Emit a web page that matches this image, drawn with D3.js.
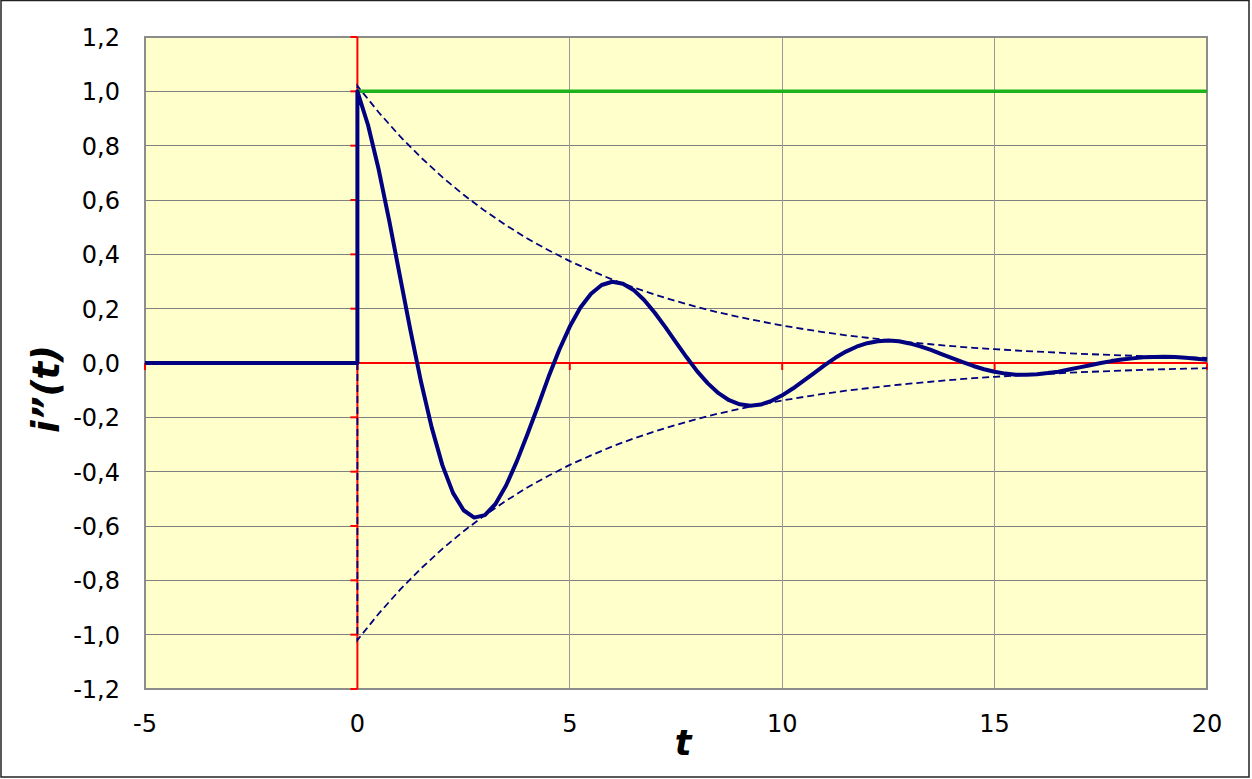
<!DOCTYPE html>
<html><head><meta charset="utf-8">
<script src="https://cdn.jsdelivr.net/npm/d3@7"></script>
<style>
html,body{margin:0;padding:0;background:#fff;}
svg{display:block;}
text{font-family:"DejaVu Sans",Verdana,sans-serif;}
</style></head>
<body>
<svg id="chart" width="1252" height="779"></svg>
<script>
// ---- data ----
const xTicks = [-5, 0, 5, 10, 15, 20];
const yTicks = [-1.2, -1.0, -0.8, -0.6, -0.4, -0.2, 0.0, 0.2, 0.4, 0.6, 0.8, 1.0, 1.2];

// main response i''(t): before the step, then samples every 0.25 from t = 0
const preT = [-5, 0];
const preV = [0, 0];
const respStep = 0.25;
const respV = [
  1.000, 0.876, 0.713, 0.523, 0.321, 0.119, -0.071, -0.238, -0.376, -0.478,
  -0.542, -0.569, -0.560, -0.519, -0.451, -0.363, -0.263, -0.159, -0.051, 0.048,
  0.134, 0.204, 0.255, 0.287, 0.299, 0.292, 0.269, 0.232, 0.185, 0.132,
  0.076, 0.021, -0.031, -0.075, -0.111, -0.137, -0.152, -0.157, -0.153, -0.139,
  -0.119, -0.094, -0.066, -0.037, -0.008, 0.019, 0.042, 0.060, 0.073, 0.080,
  0.083, 0.080, 0.072, 0.061, 0.048, 0.033, 0.018, 0.003, -0.011, -0.023,
  -0.032, -0.039, -0.043, -0.043, -0.041, -0.037, -0.032, -0.024, -0.016, -0.008,
  0.000, 0.007, 0.013, 0.017, 0.021, 0.022, 0.023, 0.022, 0.019, 0.016,
  0.012
];

// envelope (dashed) samples every 0.5 from t = 0
const envStep = 0.5;
const envV = [
  1.020, 0.923, 0.835, 0.756, 0.684, 0.619, 0.560, 0.507, 0.458, 0.415,
  0.375, 0.340, 0.307, 0.278, 0.252, 0.228, 0.206, 0.186, 0.169, 0.153,
  0.138, 0.125, 0.113, 0.102, 0.093, 0.084, 0.076, 0.069, 0.062, 0.056,
  0.051, 0.046, 0.042, 0.038, 0.034, 0.031, 0.028, 0.025, 0.023, 0.021,
  0.019
];

// steady-state level (green)
const levelT = [0, 20];
const levelV = [1.0, 1.0];

const fmt = v => d3.format(".1f")(v).replace(".", ",").replace("−", "-");

// ---- layout ----
const svg = d3.select("#chart");
const L = 145, R = 1207, T = 37, B = 689;
const x = d3.scaleLinear().domain([-5, 20]).range([L, R]);
const y = d3.scaleLinear().domain([-1.2, 1.2]).range([B, T]);

// outer border
svg.append("rect").attr("x", 1).attr("y", 0.5).attr("width", 1248).attr("height", 776.5)
  .attr("fill", "#fff").attr("stroke", "#222").attr("stroke-width", 1.5);

// plot background
svg.append("rect").attr("x", L).attr("y", T).attr("width", R - L).attr("height", B - T)
  .attr("fill", "#FFFFCC");

// gridlines
const grid = svg.append("g").attr("shape-rendering", "crispEdges");
grid.selectAll(".gy").data(yTicks).join("line")
  .attr("x1", L).attr("x2", R).attr("y1", d => y(d)).attr("y2", d => y(d))
  .attr("stroke", "#808080").attr("stroke-width", 1);
grid.selectAll(".gx").data(xTicks).join("line")
  .attr("x1", d => x(d)).attr("x2", d => x(d)).attr("y1", T).attr("y2", B)
  .attr("stroke", "#999").attr("stroke-width", 1);

// plot border
svg.append("rect").attr("x", L).attr("y", T).attr("width", R - L).attr("height", B - T)
  .attr("fill", "none").attr("stroke", "#8c8c8c").attr("stroke-width", 2);

// red axes through the origin
const ax = svg.append("g").attr("stroke", "#FF0000").attr("stroke-width", 2).attr("fill", "none");
ax.append("line").attr("x1", x(0)).attr("x2", x(0)).attr("y1", T).attr("y2", B);
ax.append("line").attr("x1", L).attr("x2", R).attr("y1", y(0)).attr("y2", y(0));
ax.selectAll(".ty").data(yTicks).join("line")
  .attr("x1", x(0) - 7).attr("x2", x(0)).attr("y1", d => y(d)).attr("y2", d => y(d));
ax.selectAll(".tx").data(xTicks).join("line")
  .attr("x1", d => x(d)).attr("x2", d => x(d)).attr("y1", y(0)).attr("y2", y(0) + 7);

// tick labels
svg.append("g").selectAll("text").data(yTicks).join("text")
  .attr("x", 120).attr("y", d => y(d) + 9)
  .attr("text-anchor", "end").attr("font-size", 24).attr("fill", "#000")
  .text(fmt);
svg.append("g").selectAll("text").data(xTicks).join("text")
  .attr("x", d => x(d)).attr("y", 732)
  .attr("text-anchor", "middle").attr("font-size", 24).attr("fill", "#000")
  .text(d => String(d).replace("−", "-"));

// axis titles
svg.append("text").attr("x", 683).attr("y", 755).attr("text-anchor", "middle")
  .attr("font-size", 35).attr("font-weight", "bold").attr("font-style", "italic")
  .text("t");
svg.append("text").attr("transform", "translate(59,389) rotate(-90)")
  .attr("text-anchor", "middle")
  .attr("font-size", 37).attr("font-weight", "bold").attr("font-style", "italic")
  .text("i”(t)");

// series
const line = d3.line().x(d => x(d[0])).y(d => y(d[1]));
const envUpper = [[0, 0]].concat(envV.map((v, i) => [i * envStep, v]));
const envLower = [[0, 0]].concat(envV.map((v, i) => [i * envStep, -v]));
const resp = preT.map((t, i) => [t, preV[i]]).concat(respV.map((v, i) => [i * respStep, v]));
const level = levelT.map((t, i) => [t, levelV[i]]);

svg.append("path").datum(envUpper).attr("d", line)
  .attr("fill", "none").attr("stroke", "#000080").attr("stroke-width", 1.8).attr("stroke-dasharray", "7,4");
svg.append("path").datum(envLower).attr("d", line)
  .attr("fill", "none").attr("stroke", "#000080").attr("stroke-width", 1.8).attr("stroke-dasharray", "7,4");
svg.append("path").datum(level).attr("d", line)
  .attr("fill", "none").attr("stroke", "#1DB31D").attr("stroke-width", 3.5);
svg.append("path").datum(resp).attr("d", line)
  .attr("fill", "none").attr("stroke", "#000080").attr("stroke-width", 4)
  .attr("stroke-linejoin", "round");
</script>
</body></html>
